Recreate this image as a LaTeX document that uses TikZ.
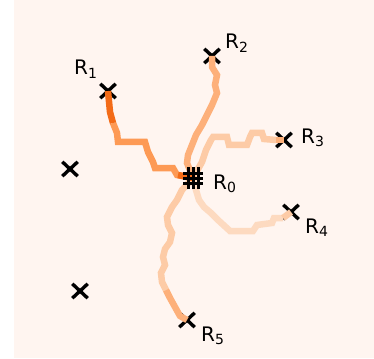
\documentclass[tikz,border=0pt]{standalone}
\usepackage{fontspec}
\setmainfont{DejaVu Sans}
\usetikzlibrary{shapes.misc}
\definecolor{bgpink}{HTML}{FFF5F0}
\definecolor{ordark}{HTML}{F36B17}
\definecolor{ormid}{HTML}{FD9A55}
\definecolor{orlight}{HTML}{FDB07A}
\definecolor{orpale}{HTML}{FDCBA6}
\definecolor{orpaler}{HTML}{FDDAC0}
\tikzset{
    mark x/.style={cross out,draw=black,line width=3.4pt,inner sep=0pt,minimum width=12pt,minimum height=11pt},
    hashbar/.style={line width=3pt,black},
    trail/.style={line width=6.5pt,miter limit=2},
    lbl/.style={anchor=base west,inner sep=0pt,font=\fontsize{20}{24}\selectfont}
}
\begin{document}
\begin{tikzpicture}[x=1pt,y=-1pt]
            \useasboundingbox (0,0) rectangle (374,358);
            \fill [bgpink] (14,0) rectangle (374,358);

            \coordinate (r0) at (193,178);
            \node [mark x] (r1) at (108,91) {};
            \node [mark x] (r2) at (212,56) {};
            \node [mark x] (r3) at (284,140) {};
            \node [mark x] (r4) at (291,212) {};
            \node [mark x] (r5) at (187,320) {};
            \node [mark x] (u1) at (70,169) {};
            \node [mark x] (u2) at (80,291) {};

            \draw [trail,orpale] (r0) -- (202,162) -- (206,150) -- (211,140) -- (213,137) -- (227,137) -- (229,145) -- (247,145) -- (250,137) -- (252,133) -- (262,133) -- (264,139) -- (276,140);
            \draw [trail,orlight] (276,140) -- (r3.center);
            \draw [trail,orpaler] (r0) -- (196,190) -- (199,200) -- (204,207) -- (211,213) -- (218,220) -- (230,231) -- (253,231) -- (257,225) -- (272,223) -- (274,218) -- (283,218);
            \draw [trail,orpale] (283,218) -- (r4.center);
            \draw [trail,orpale] (r0) -- (182,190) -- (177,200) -- (172,207) -- (167,217) -- (168,225) -- (172,233) -- (170,242) -- (165,249) -- (163,257) -- (165,265) -- (161,273) -- (162,282) -- (166,290);
            \draw [trail,orlight] (166,290) -- (170,298) -- (175,307) -- (180,316) -- (r5.center);
            \draw [trail,orlight] (r0) -- (187,163) -- (188,155) -- (192,145) -- (196,135) -- (202,125) -- (207,115) -- (212,105) -- (217,93) -- (215,85) -- (217,75) -- (212,67) -- (r2.center);
            \draw [trail,ormid] (r0) -- (187,177) -- (177,175) -- (173,168) -- (155,168) -- (153,162) -- (148,152) -- (145,142) -- (118,142) -- (117,133) -- (113,123);
            \draw [trail,ordark] (113,123) -- (110,112) -- (r1.center);
            \draw [trail,ordark] (r0) -- (178,175);

            \foreach \d in {-5,0,5} {
                \draw [hashbar] ([xshift=\d pt,yshift=-11pt]r0) -- ([xshift=\d pt,yshift=11pt]r0);
                \draw [hashbar] ([xshift=-10pt,yshift=\d pt]r0) -- ([xshift=10pt,yshift=\d pt]r0);
            }

            \node [lbl] (l0) at (213,189) {R\textsubscript{0}};
            \node [lbl] (l1) at (74,75) {R\textsubscript{1}};
            \node [lbl] (l2) at (225,49) {R\textsubscript{2}};
            \node [lbl] (l3) at (301,143) {R\textsubscript{3}};
            \node [lbl] (l4) at (305,233) {R\textsubscript{4}};
            \node [lbl] (l5) at (201,341) {R\textsubscript{5}};
        \end{tikzpicture}
\end{document}
